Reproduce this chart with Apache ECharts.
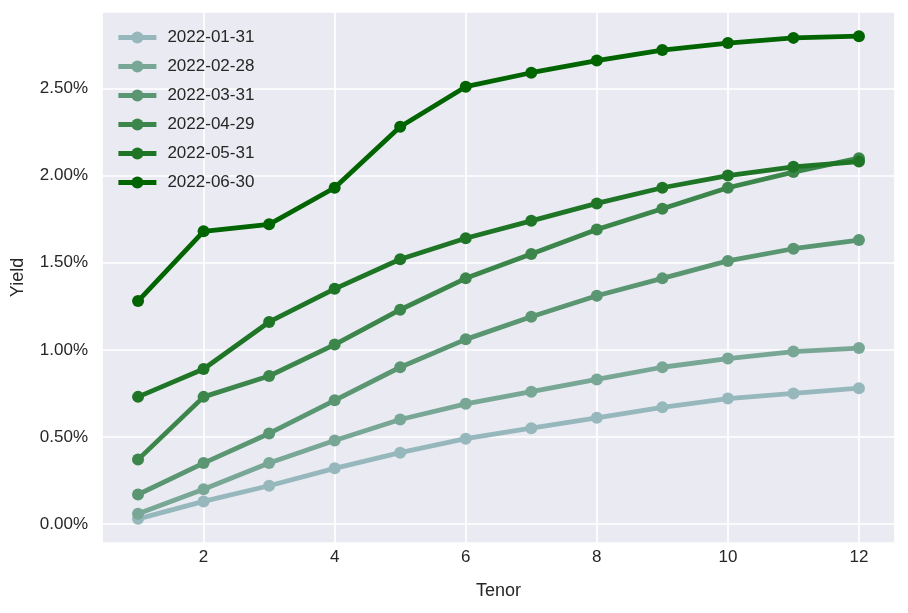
<!DOCTYPE html>
<html>
<head>
<meta charset="utf-8">
<script src="https://cdn.jsdelivr.net/npm/echarts@6/dist/echarts.min.js"></script>
<style>
html,body{margin:0;padding:0;background:#ffffff;}
#chart{width:908px;height:613px;}
</style>
</head>
<body>
<div id="chart"></div>
<script>
const tenors = [1,2,3,4,5,6,7,8,9,10,11,12];
const seriesNames = ['2022-01-31','2022-02-28','2022-03-31','2022-04-29','2022-05-31','2022-06-30'];
const y20220131 = [0.03,0.13,0.22,0.32,0.41,0.49,0.55,0.61,0.67,0.72,0.75,0.78];
const y20220228 = [0.06,0.20,0.35,0.48,0.60,0.69,0.76,0.83,0.90,0.95,0.99,1.01];
const y20220331 = [0.17,0.35,0.52,0.71,0.90,1.06,1.19,1.31,1.41,1.51,1.58,1.63];
const y20220429 = [0.37,0.73,0.85,1.03,1.23,1.41,1.55,1.69,1.81,1.93,2.02,2.10];
const y20220531 = [0.73,0.89,1.16,1.35,1.52,1.64,1.74,1.84,1.93,2.00,2.05,2.08];
const y20220630 = [1.28,1.68,1.72,1.93,2.28,2.51,2.59,2.66,2.72,2.76,2.79,2.80];
const colors = ['#96b8bc','#78a796','#5a9671','#3c864b','#1e7526','#006400'];
const allValues = [y20220131,y20220228,y20220331,y20220429,y20220531,y20220630];

const font = 'Liberation Sans, Arial, sans-serif';
const textColor = '#262626';

const chart = echarts.init(document.getElementById('chart'), null, {renderer:'canvas'});
const series = seriesNames.map((name, i) => ({
  name: name,
  type: 'line',
  data: tenors.map((t, j) => [t, allValues[i][j]]),
  symbol: 'circle',
  symbolSize: 12,
  showSymbol: true,
  lineStyle: {width: 4.8, color: colors[i]},
  itemStyle: {color: colors[i]},
  color: colors[i],
  emphasis: {disabled: true},
  animation: false
}));

chart.setOption({
  animation: false,
  backgroundColor: '#ffffff',
  grid: {left: 102, top: 12, right: 13, bottom: 70, show: true, backgroundColor: '#eaeaf2', borderWidth: 0, containLabel: false},
  legend: {
    show: true,
    orient: 'vertical',
    left: 116,
    top: 29,
    padding: 0,
    itemWidth: 38,
    itemHeight: 15,
    itemGap: 12,
    data: seriesNames,
    lineStyle: {width: 4.8},
    textStyle: {fontFamily: font, fontSize: 17, color: textColor, lineHeight: 16, padding: [0,0,0,6]}
  },
  xAxis: {
    type: 'value',
    min: 0.45,
    max: 12.55,
    name: 'Tenor',
    nameLocation: 'middle',
    nameGap: 39,
    nameTextStyle: {fontFamily: font, fontSize: 18, color: textColor},
    axisLine: {show: false},
    axisTick: {show: false},
    axisLabel: {fontFamily: font, fontSize: 17, color: textColor, margin: 6, showMinLabel: false, showMaxLabel: false,
      formatter: v => (Math.abs(v - Math.round(v)) < 1e-9 && Math.round(v) % 2 === 0) ? String(Math.round(v)) : ''},
    splitLine: {show: true, lineStyle: {color: '#ffffff', width: 1.7}}
  },
  yAxis: {
    type: 'value',
    min: -0.1085,
    max: 2.9385,
    name: 'Yield',
    nameLocation: 'middle',
    nameGap: 75,
    nameTextStyle: {fontFamily: font, fontSize: 18, color: textColor},
    axisLine: {show: false},
    axisTick: {show: false},
    axisLabel: {fontFamily: font, fontSize: 17, color: textColor, margin: 14, showMinLabel: false, showMaxLabel: false,
      formatter: v => v.toFixed(2) + '%'},
    splitLine: {show: true, lineStyle: {color: '#ffffff', width: 1.7}}
  },
  series: series
});
</script>
</body>
</html>
